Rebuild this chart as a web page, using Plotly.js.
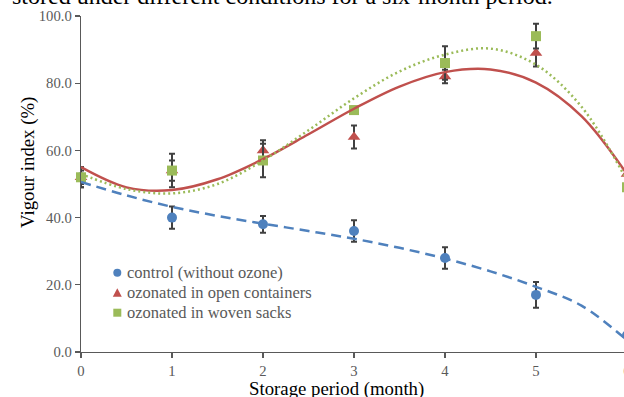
<!DOCTYPE html>
<html>
<head>
<meta charset="utf-8">
<script src="https://cdn.plot.ly/plotly-3.0.1.min.js"></script>
<style>html,body{margin:0;padding:0;overflow:hidden;background:#fff;}#chart{width:650px;height:397px;}</style>
</head>
<body>
<div id="chart"></div>
<script>
// Storage period (months)
const months = [0, 1, 2, 3, 4, 5, 6];
// Vigour index (%) and error bars
const controlVals = [52, 40, 38, 36, 28, 17, 5];
const controlErr  = [2, 3.3, 2.5, 3.2, 3.2, 3.8, 6];
const openVals    = [52, 54, 60, 64, 82, 89, 53];
const openErr     = [3, 3, 3, 3.4, 2, 4, 3];
const wovenVals   = [52, 54, 57, 72, 86, 94, 49];
const wovenErr    = [3, 5, 5, 1, 5, 3.7, 4];
// Trendline values
const trendX      = [0, 0.5, 1, 1.5, 2, 2.5, 3, 3.5, 4, 4.5, 5, 5.5, 6];
const controlTrend= [50.6, 46.6, 43.2, 40.5, 38.2, 36, 33.7, 31, 27.8, 24, 19.4, 13.8, 3.5];
const openTrend   = [55, 49.0, 48.2, 51.4, 57.4, 64.8, 72.4, 79.0, 83.3, 84.1, 80.2, 70.2, 52.9];
const wovenTrend  = [53, 48.5, 47.2, 50, 57, 66, 75.5, 83.5, 88.5, 90.3, 85.5, 73, 51];

const seriesNames = ['control (without ozone)', 'ozonated in open containers', 'ozonated in woven sacks'];
const colors = ['#4F81BD', '#C0504D', '#9BBB59'];
const serif = 'Liberation Serif, Times New Roman, serif';
const errStyle = (arr) => ({type: 'data', array: arr, visible: true, color: '#404040', thickness: 2, width: 3});

const traces = [
  {x: months, y: controlVals, name: seriesNames[0], mode: 'markers', type: 'scatter',
   marker: {symbol: 'circle', size: 10, color: colors[0]}, error_y: errStyle(controlErr), cliponaxis: false},
  {x: months, y: openVals, name: seriesNames[1], mode: 'markers', type: 'scatter',
   marker: {symbol: 'triangle-up', size: 11, color: colors[1]}, error_y: errStyle(openErr), cliponaxis: false},
  {x: months, y: wovenVals, name: seriesNames[2], mode: 'markers', type: 'scatter',
   marker: {symbol: 'square', size: 10, color: colors[2]}, error_y: errStyle(wovenErr), cliponaxis: false},
  {x: trendX, y: controlTrend, mode: 'lines', type: 'scatter', showlegend: false, hoverinfo: 'skip',
   line: {color: colors[0], width: 2.5, dash: '10px,6px', shape: 'spline'}},
  {x: trendX, y: openTrend, mode: 'lines', type: 'scatter', showlegend: false, hoverinfo: 'skip',
   line: {color: colors[1], width: 2.5, shape: 'spline'}},
  {x: trendX, y: wovenTrend, mode: 'lines', type: 'scatter', showlegend: false, hoverinfo: 'skip',
   line: {color: colors[2], width: 2.5, dash: '2px,3px', shape: 'spline'}}
];

// Plot area geometry (pixels) used to place the hand-made legend
const PL = 81, PW = 546, PT = 16, PH = 336;
const px = (v) => (v - PL) / PW;
const py = (v) => (PT + PH - v) / PH;

const legendRowsY = [272.7, 292.7, 312.7];
const legendMarkX = 117.3, legendTextX = 124.5;

const legendShapes = [
  {type: 'circle', xref: 'paper', yref: 'paper', x0: px(legendMarkX - 4), x1: px(legendMarkX + 4),
   y0: py(legendRowsY[0] + 4), y1: py(legendRowsY[0] - 4), fillcolor: colors[0], line: {width: 0}},
  {type: 'path', xref: 'paper', yref: 'paper',
   path: 'M ' + px(legendMarkX - 4.5) + ' ' + py(legendRowsY[1] + 4) + ' L ' + px(legendMarkX + 4.5) + ' ' + py(legendRowsY[1] + 4) +
         ' L ' + px(legendMarkX) + ' ' + py(legendRowsY[1] - 4.5) + ' Z', fillcolor: colors[1], line: {width: 0}},
  {type: 'rect', xref: 'paper', yref: 'paper', x0: px(legendMarkX - 4), x1: px(legendMarkX + 4),
   y0: py(legendRowsY[2] + 4), y1: py(legendRowsY[2] - 4), fillcolor: colors[2], line: {width: 0}}
];

const legendTexts = seriesNames.map((name, i) => ({
  text: name, xref: 'paper', yref: 'paper', x: px(legendTextX), y: py(legendRowsY[i]),
  xanchor: 'left', yanchor: 'middle', showarrow: false,
  font: {family: serif, size: 16.5, color: '#595959'}
}));

const axisCommon = {
  showline: true, linecolor: '#595959', linewidth: 1.3, ticks: 'outside', ticklen: 5,
  tickcolor: '#595959', tickwidth: 1.3, showgrid: false, zeroline: false,
  tickfont: {family: serif, size: 14.7, color: '#595959'}
};

const layout = {
  width: 650, height: 397,
  margin: {l: PL, r: 650 - PL - PW, t: PT, b: 397 - PT - PH},
  paper_bgcolor: '#ffffff', plot_bgcolor: '#ffffff',
  showlegend: false,
  xaxis: Object.assign({}, axisCommon, {range: [0, 6], dtick: 1, tick0: 0}),
  yaxis: Object.assign({}, axisCommon, {range: [0, 100], dtick: 20, tick0: 0, tickformat: '.1f'}),
  shapes: legendShapes,
  annotations: [
    {text: 'stored under different conditions for a six-month period.', xref: 'paper', yref: 'paper',
     x: px(10), y: py(11), xanchor: 'left', yanchor: 'bottom', showarrow: false,
     font: {family: serif, size: 24, color: '#000000'}},
    {text: 'Storage period (month)', xref: 'paper', yref: 'paper', x: px(336), y: py(376),
     xanchor: 'center', yanchor: 'top', showarrow: false, font: {family: serif, size: 18.8, color: '#000000'}},
    {text: 'Vigour index (%)', xref: 'paper', yref: 'paper', x: px(28), y: py(163), textangle: -90,
     xanchor: 'center', yanchor: 'middle', showarrow: false, font: {family: serif, size: 18.8, color: '#000000'}}
  ].concat(legendTexts)
};

Plotly.newPlot('chart', traces, layout, {displayModeBar: false, staticPlot: true});
</script>
</body>
</html>
